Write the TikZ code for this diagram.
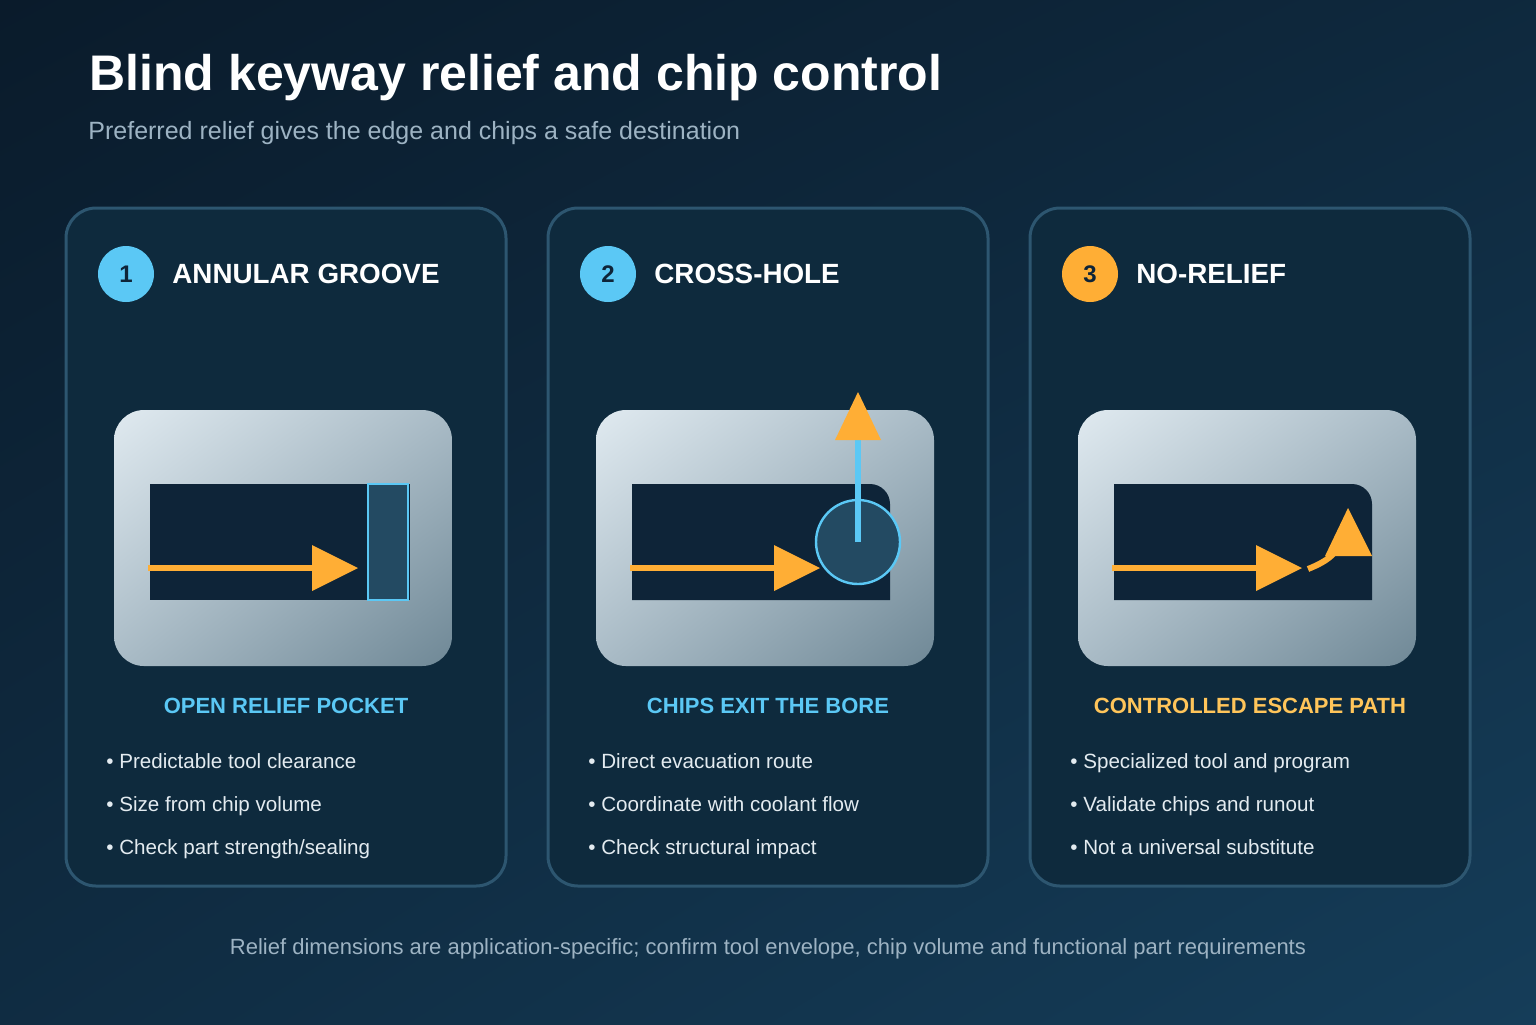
\documentclass[tikz,border=0pt]{standalone}
\usepackage{fontspec}
\usetikzlibrary{shadings}
\setmainfont{Liberation Sans}
\definecolor{bgA}{HTML}{0A1B2B}
\definecolor{bgB}{HTML}{153D59}
\definecolor{card}{HTML}{0E2A3D}
\definecolor{cardline}{HTML}{2D5670}
\definecolor{slot}{HTML}{0E2438}
\definecolor{blu}{HTML}{5BC8F5}
\definecolor{org}{HTML}{FFAE35}
\definecolor{ylw}{HTML}{FFC55A}
\definecolor{pocket}{HTML}{234A62}
\definecolor{txt}{HTML}{E3EBF0}
\definecolor{sub}{HTML}{9DB3C3}
\definecolor{gA}{HTML}{E0EAF0}
\definecolor{gM}{HTML}{A9BBC6}
\definecolor{gB}{HTML}{6F8896}
\begin{document}
\begin{tikzpicture}[x=0.5pt,y=-0.5pt,
 cardst/.style={draw=cardline,line width=1.5pt,fill=card,rounded corners=15pt},
 num/.style={circle,minimum size=28pt,inner sep=0pt,font=\bfseries\fontsize{12}{14}\selectfont,text=slot},
 head/.style={anchor=west,inner sep=0pt,font=\bfseries\fontsize{13.9}{16}\selectfont,text=white},
 lab/.style={font=\bfseries\fontsize{11}{13}\selectfont},
 bul/.style={anchor=base west,inner sep=0pt,font=\fontsize{10.3}{12}\selectfont,text=txt},
 ar/.style={org,line width=3pt},
 tri/.style={fill=org}]
\shade[upper left=bgA,lower right=bgB,upper right=bgA!60!bgB,lower left=bgA!50!bgB] (0,0) rectangle (1536,1024);
\useasboundingbox (0,0) rectangle (1536,1024);
\node[anchor=west,inner sep=0pt,text=white,font=\bfseries\fontsize{25}{30}\selectfont] (title) at (89,78) {Blind keyway relief and chip control};
\node[anchor=west,inner sep=0pt,text=sub,font=\fontsize{12.5}{15}\selectfont] (subt) at (88,133) {Preferred relief gives the edge and chips a safe destination};
\foreach \o/\n/\c/\h/\lc/\l/\ba/\bb/\bc/\k in {
 0/1/blu/ANNULAR GROOVE/blu/OPEN RELIEF POCKET/Predictable tool clearance/Size from chip volume/Check part strength\slash sealing/a,
 482/2/blu/CROSS-HOLE/blu/CHIPS EXIT THE BORE/Direct evacuation route/Coordinate with coolant flow/Check structural impact/b,
 964/3/org/NO-RELIEF/ylw/CONTROLLED ESCAPE PATH/Specialized tool and program/Validate chips and runout/Not a universal substitute/c}{
 \begin{scope}[xshift=\o*0.5pt]
 \draw[cardst] (66,208) rectangle (506,886);
 \node[num,fill=\c] (n\k) at (126,274) {\n};
 \node[head] (h\k) at (172,274) {\h};
 \shade[rounded corners=15pt,upper left=gA,lower right=gB,upper right=gM,lower left=gM] (114,410) rectangle (452,666);
 \node[lab,text=\lc] (l\k) at (286,706) {\l};
 \node[bul] (b1\k) at (106,768) {• \ba};
 \node[bul] (b2\k) at (106,811) {• \bb};
 \node[bul] (b3\k) at (106,854) {• \bc};
 \end{scope}}
% panel 1
\fill[slot] (150,484) rectangle (410,600);
\draw[blu,line width=1.2pt,fill=pocket] (368,484) rectangle (408,600);
\coordinate (a1) at (148,568); \coordinate (a2) at (314,568);
\draw[ar] (a1) -- (a2);
\fill[tri] (312,545) -- (358,568) -- (312,591) -- cycle;
% panel 2
\fill[slot] (632,484) -- (870,484) arc[start angle=-90,end angle=0,radius=20] -- (890,600) -- (632,600) -- cycle;
\draw[blu,line width=1.2pt,fill=pocket] (858,542) circle[radius=42];
\coordinate (b1) at (630,568); \coordinate (b2) at (776,568);
\draw[ar] (b1) -- (b2);
\fill[tri] (774,545) -- (820,568) -- (774,591) -- cycle;
\coordinate (c1) at (858,542); \coordinate (c2) at (858,440);
\draw[blu,line width=3pt] (c1) -- (c2);
\fill[tri] (835,440) -- (858,392) -- (881,440) -- cycle;
% panel 3
\fill[slot] (1114,484) -- (1352,484) arc[start angle=-90,end angle=0,radius=20] -- (1372,600) -- (1114,600) -- cycle;
\coordinate (d1) at (1112,568); \coordinate (d2) at (1258,568);
\draw[ar] (d1) -- (d2);
\fill[tri] (1256,545) -- (1302,568) -- (1256,591) -- cycle;
\coordinate (e1) at (1308,569); \coordinate (e2) at (1334,553);
\draw[ar] (e1) .. controls (1318,565) and (1328,560) .. (e2);
\fill[tri] (1325,556) -- (1348,508) -- (1372,556) -- cycle;
\node[text=sub,font=\fontsize{11}{13}\selectfont] (foot) at (768,949) {Relief dimensions are application-specific; confirm tool envelope, chip volume and functional part requirements};
\end{tikzpicture}
\end{document}
